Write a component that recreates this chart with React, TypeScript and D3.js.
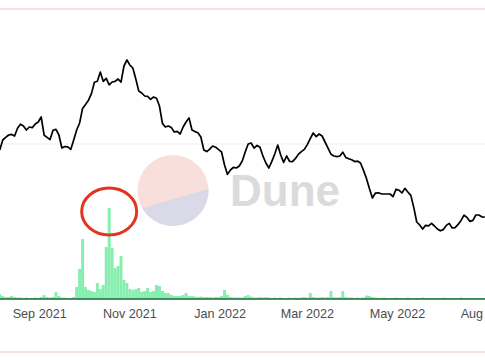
import * as d3 from "d3";
import { useEffect, useRef } from "react";

// one point every 2 days starting Aug 5 2021
const startDate = new Date(2021, 7, 5);
const stepDays = 2;

const priceValues = [
  77, 82, 83.3, 84.5, 84.8, 84, 87.9, 89.9, 89, 87,
  88.5, 88.2, 90, 91, 93.5, 84.4, 83.3, 82.2, 86.9, 87.3,
  84.5, 78, 78.7, 78.6, 77.3, 82, 87, 90.5, 97.8, 99.8,
  101.9, 105.2, 110.9, 111.4, 116, 111.3, 112.8, 109.6, 111, 111.3,
  112.5, 110.9, 119, 122, 119.4, 118, 112.5, 106.5, 105.5, 104,
  103.8, 102.3, 103.5, 102.9, 99, 90.3, 88.5, 89, 88.3, 86,
  86.3, 85, 88.5, 91, 93, 87, 86.2, 85.6, 83.5, 77,
  76.2, 77.4, 79, 78.4, 77.2, 76, 69.5, 64.8, 67, 68.3,
  68, 69, 71.5, 76, 80, 80.5, 77.9, 79.3, 78.4, 73.9,
  70.5, 68, 71.3, 75, 79.5, 74.5, 70.8, 74, 71.3, 71.2,
  72.8, 74.9, 76.2, 77.3, 79.7, 82.7, 85.5, 83.7, 85, 84,
  81, 77.9, 74.9, 74, 73.7, 74, 75.9, 73.3, 72.6, 72.1,
  71.2, 71.4, 70.5, 66.8, 62.8, 57.7, 53, 55.4, 55.6, 55.1,
  55, 55, 55, 53.7, 57.4, 56.9, 55.5, 57.8, 56, 54.3,
  48.3, 41, 39.5, 37.5, 39.3, 39.1, 40.3, 39, 37.5, 36.6,
  37.2, 39.3, 40.3, 38, 38.2, 39.8, 41.8, 44.4, 43.3, 41.3,
  41.8, 44.5, 44.5, 43.6, 43.4,
];

const volumeValues = [
  5, 3, 2, 2, 3, 2, 1.5, 1.5, 1, 1.5,
  1, 1, 1.5, 1, 2, 4, 2, 1.5, 2, 7,
  3, 1.5, 1.5, 1, 1, 2, 12, 30, 60, 12,
  9, 8, 7, 16, 10, 14, 52, 91, 51, 31,
  33, 43, 19, 16, 10, 9, 10, 11, 7, 8,
  11, 7, 8, 14, 13, 8, 6, 6, 4, 3,
  3, 3, 4, 6, 3, 3, 2.5, 2, 2.5, 2,
  2, 2, 1.5, 2, 2, 3, 9, 4, 2, 1.5,
  1.5, 1.5, 1.5, 3, 4, 2.5, 1.5, 1.5, 2, 1.5,
  2, 1.5, 1, 1.5, 1, 1.5, 1, 1, 1.5, 1,
  1.5, 1, 1.5, 2, 1.5, 6, 2, 1.5, 1.5, 2,
  1.5, 2, 8, 2, 1.5, 2, 8, 2, 1.5, 1.5,
  1, 1.5, 1, 1.5, 3.5, 3, 2, 1.5, 1, 1,
  1.5, 1, 1, 1, 1.5, 1, 1, 1, 1.5, 1,
  1, 1, 1, 1.5, 1, 1, 1, 1, 1, 1,
  1.5, 1, 1, 1, 1, 1, 1.5, 1, 1, 1,
  1, 1, 1, 1, 1,
];

const tickDates = [
  new Date(2021, 8, 1),
  new Date(2021, 10, 1),
  new Date(2022, 0, 1),
  new Date(2022, 2, 1),
  new Date(2022, 4, 1),
  new Date(2022, 6, 1),
];
const tickLabels = ["Sep 2021", "Nov 2021", "Jan 2022", "Mar 2022", "May 2022", "Aug 2022"];
const gridValues = [80];

const W = 485;
const H = 360;

export const App = () => {
  const ref = useRef<SVGSVGElement>(null);

  useEffect(() => {
    const svg = d3.select(ref.current);
    svg.selectAll("*").remove();

    const dates = priceValues.map((_, i) => d3.timeDay.offset(startDate, i * stepDays));

    const x = d3
      .scaleTime()
      .domain([new Date(2021, 8, 1), new Date(2022, 4, 1)])
      .range([39.7, 397.5]);
    const yPrice = d3.scaleLinear().domain([0, 150]).range([304, 4]);
    const yVol = d3.scaleLinear().domain([0, 100]).range([299, 199]);
    const barW = x(dates[1]) - x(dates[0]);

    svg.append("rect").attr("width", W).attr("height", H).attr("fill", "#fff");

    // frame lines
    svg.append("line").attr("x1", 0).attr("x2", W).attr("y1", 9).attr("y2", 9)
      .attr("stroke", "#f5e4de").attr("stroke-width", 2);
    svg.append("line").attr("x1", 0).attr("x2", W).attr("y1", 352).attr("y2", 352)
      .attr("stroke", "#f5e4de").attr("stroke-width", 2);

    svg.selectAll(".grid")
      .data(gridValues)
      .join("line")
      .attr("class", "grid")
      .attr("x1", 0)
      .attr("x2", W)
      .attr("y1", (d) => yPrice(d))
      .attr("y2", (d) => yPrice(d))
      .attr("stroke", "#efefef")
      .attr("stroke-width", 1);

    // volume bars
    svg.selectAll(".bar")
      .data(volumeValues)
      .join("rect")
      .attr("class", "bar")
      .attr("x", (_, i) => x(dates[i]) - barW / 2)
      .attr("width", barW)
      .attr("y", (d) => yVol(d))
      .attr("height", (d) => yVol(0) - yVol(d))
      .attr("fill", "#86efb0");

    svg.append("line").attr("x1", 0).attr("x2", W)
      .attr("y1", yVol(0)).attr("y2", yVol(0))
      .attr("stroke", "#1d6a38").attr("stroke-width", 1.3);

    // Dune watermark
    const cx = 173, cy = 190.5, r = 35.5;
    const g = svg.append("g");
    g.append("circle").attr("cx", cx).attr("cy", cy).attr("r", r).attr("fill", "#f8dfdb");
    const a1 = (150 * Math.PI) / 180;
    const a2 = (-3 * Math.PI) / 180;
    const p1 = [cx + r * Math.cos(a1), cy + r * Math.sin(a1)];
    const p2 = [cx + r * Math.cos(a2), cy + r * Math.sin(a2)];
    g.append("path")
      .attr("d", `M${p2[0]},${p2[1]} A${r},${r} 0 0 1 ${p1[0]},${p1[1]} Z`)
      .attr("fill", "#d9d9e8");
    g.append("text")
      .attr("x", 230)
      .attr("y", 206)
      .attr("font-family", "Liberation Sans, Arial, sans-serif")
      .attr("font-weight", "bold")
      .attr("font-size", 44)
      .attr("fill", "#dbdbdb")
      .text("Dune");

    // price line
    const line = d3
      .line<number>()
      .x((_, i) => x(dates[i]))
      .y((d) => yPrice(d));
    svg.append("path")
      .attr("d", line(priceValues))
      .attr("fill", "none")
      .attr("stroke", "#000")
      .attr("stroke-width", 1.7)
      .attr("stroke-linejoin", "round");

    // x axis labels (last one runs off the right edge, as in the source)
    svg.selectAll(".tick")
      .data(tickDates)
      .join("text")
      .attr("class", "tick")
      .attr("x", (d) => x(d))
      .attr("y", 317.5)
      .attr("text-anchor", "middle")
      .attr("font-family", "Liberation Sans, Arial, sans-serif")
      .attr("font-size", 12.6)
      .attr("fill", "#4d4d4d")
      .text((_, i) => tickLabels[i]);

    // red hand-drawn ellipse around the spike
    svg.append("ellipse")
      .attr("cx", x(dates[37]))
      .attr("cy", 211.5)
      .attr("rx", 27.5)
      .attr("ry", 23.5)
      .attr("fill", "none")
      .attr("stroke", "#e2341f")
      .attr("stroke-width", 3);
  }, []);

  return (
    <svg
      ref={ref}
      width={W}
      height={H}
      style={{ position: "absolute", left: 0, top: 0 }}
    />
  );
};

export default App;
